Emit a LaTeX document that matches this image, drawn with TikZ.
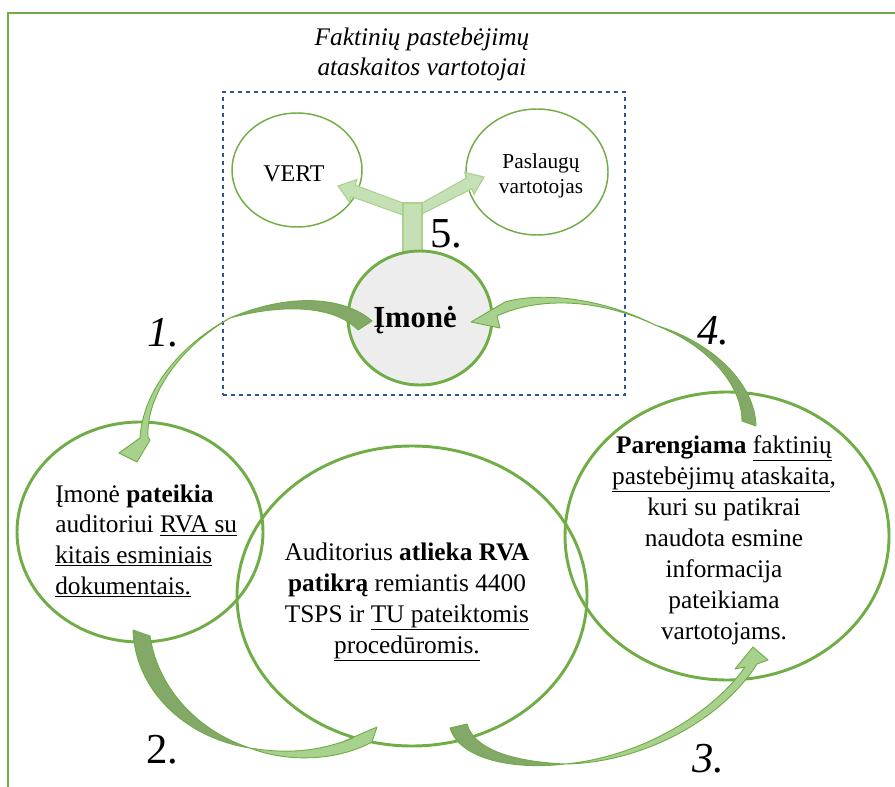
\documentclass[tikz,border=0pt]{standalone}
\usepackage{fontspec}
\setmainfont{Liberation Serif}
\usetikzlibrary{shapes.geometric}
\definecolor{grn}{HTML}{70AD47}
\definecolor{lgrn}{HTML}{A9D18E}
\definecolor{dgrn}{RGB}{131,168,104}
\definecolor{pale}{HTML}{C5E0B4}
\definecolor{gry}{HTML}{EDEDED}
\definecolor{dblue}{HTML}{2F5597}
\begin{document}
\begin{tikzpicture}[x=0.75pt,y=-0.75pt,
  bigc/.style={ellipse,draw=grn,line width=2.2pt,inner sep=0},
  smallc/.style={ellipse,draw=grn,line width=1.1pt,inner sep=0},
  darkpart/.style={fill=dgrn,draw=grn,line width=0.7pt,line join=round},
  lightpart/.style={fill=lgrn,draw=grn,line width=0.7pt,line join=round},
  blockarrow/.style={fill=pale,draw=lgrn,line width=0.8pt,line join=miter},
  body/.style={inner sep=0,font=\fontsize{19}{23.2}\selectfont},
  num/.style={inner sep=0,anchor=base,font=\fontsize{32}{36}\selectfont},
]
\useasboundingbox (0,0) rectangle (895,787);
% outer frame
\draw[grn,line width=1.1pt] (8,787) -- (8,13) -- (895,13);
% dashed box
\node[draw=dblue,dashed,line width=0.9pt,inner sep=0,minimum width={402*0.75pt},minimum height={303*0.75pt}] (box) at (424,243.5) {};
% title
\node[inner sep=0,align=center,font=\fontsize{19}{22.5}\selectfont\itshape] (title) at (422,54) {Faktinių pastebėjimų\\ataskaitos vartotojai};
% small ellipses
\node[smallc,minimum width={130*0.75pt},minimum height={114*0.75pt}] (vert) at (297,170) {};
\node[smallc,minimum width={142*0.75pt},minimum height={126*0.75pt}] (pasl) at (537,172) {};
\node[inner sep=0,anchor=base,font=\fontsize{18}{20}\selectfont] (verttxt) at (294,182) {VERT};
\node[inner sep=0,align=center,font=\fontsize{16}{18.8}\selectfont] (pasltxt) at (541,175.5) {Paslaugų\\vartotojas};
% Y block arrow
\draw[blockarrow] (403,258) -- (403,215) -- (351.4,196.6) -- (349.6,202.3) -- (338,186) -- (356.9,179.5) -- (355,185.2) -- (403,203) -- (422,203) -- (466.9,177.8) -- (464.6,172.3) -- (484,177) -- (474,194.3) -- (471.7,188.8) -- (422,214) -- (422,258) -- cycle;
\draw[blockarrow] (403,203) rectangle (422,258);
\node[num] (n5) at (446,248) {5.};
% big circles
\node[bigc,minimum width={246*0.75pt},minimum height={220*0.75pt}] (left) at (140,532) {};
\node[bigc,minimum width={350*0.75pt},minimum height={300*0.75pt}] (mid) at (412,596) {};
\node[bigc,minimum width={324*0.75pt},minimum height={288*0.75pt}] (right) at (727,536) {};
\node[bigc,fill=gry,minimum width={144*0.75pt},minimum height={134*0.75pt}] (imone) at (420,318) {};
\node[inner sep=0,anchor=base,font=\fontsize{23}{26}\selectfont\bfseries] (imonetxt) at (415,328) {Įmonė};
% curved arrow 1 (Imone -> left)
\draw[darkpart] (372,321) .. controls (345,297) and (290,292) .. (230,318) .. controls (285,303) and (335,306) .. (358,330) -- cycle;
\draw[lightpart] (230,318) .. controls (180,345) and (143,390) .. (140,438) -- (119,453) -- (137,462) -- (150,440) -- (148,437) .. controls (146,395) and (180,347) .. (230,318) -- cycle;
% curved arrow 4 (right -> Imone)
\draw[darkpart] (756,426) .. controls (755,385) and (715,343) .. (655,325) .. controls (708,345) and (742,385) .. (742,421) -- cycle;
\draw[lightpart] (655,325) .. controls (600,297) and (540,292) .. (505,302) -- (471,322) -- (500,328) -- (497,316) .. controls (540,296) and (600,299) .. (655,325) -- cycle;
% curved arrow 2 (left -> mid)
\draw[darkpart] (133,630) .. controls (135,690) and (185,738) .. (250,748) .. controls (200,732) and (158,690) .. (150,636) -- cycle;
\draw[lightpart] (250,748) .. controls (285,762) and (335,762) .. (372,742) -- (377,727) -- (340,743) -- (353,738) .. controls (318,752) and (285,754) .. (250,748) -- cycle;
% curved arrow 3 (mid -> right)
\draw[darkpart] (450,728) .. controls (460,760) and (515,770) .. (565,764) .. controls (520,762) and (475,752) .. (467,724) -- cycle;
\draw[lightpart] (565,764) .. controls (640,763) and (720,722) .. (757,664) -- (768,660) -- (753,647) -- (735,669) -- (745,667) .. controls (712,714) and (640,757) .. (565,764) -- cycle;
% texts
\node[body,anchor=west,align=left,font=\fontsize{19}{23}\selectfont] (lefttxt) at (55,541) {Įmonė \textbf{pateikia}\\auditoriui \underline{RVA su}\\\underline{kitais esminiais}\\\underline{dokumentais.}};
\node[body,align=center] (midtxt) at (407,602) {Auditorius \textbf{atlieka RVA}\\\textbf{patikrą} remiantis 4400\\TSPS ir \underline{TU pateiktomis}\\\underline{procedūromis.}};
\node[body,align=center] (righttxt) at (724,540) {\textbf{Parengiama} \underline{faktinių}\\\underline{pastebėjimų ataskaita},\\kuri su patikrai\\naudota esmine\\informacija\\pateikiama\\vartotojams.};
% numbers
\node[num,font=\fontsize{32}{36}\selectfont\itshape] (n1) at (163,347) {1.};
\node[num,font=\fontsize{32}{36}\selectfont\itshape] (n4) at (713,345) {4.};
\node[num] (n2) at (162,763) {2.};
\node[num,font=\fontsize{32}{36}\selectfont\itshape] (n3) at (708,772) {3.};
\end{tikzpicture}
\end{document}
